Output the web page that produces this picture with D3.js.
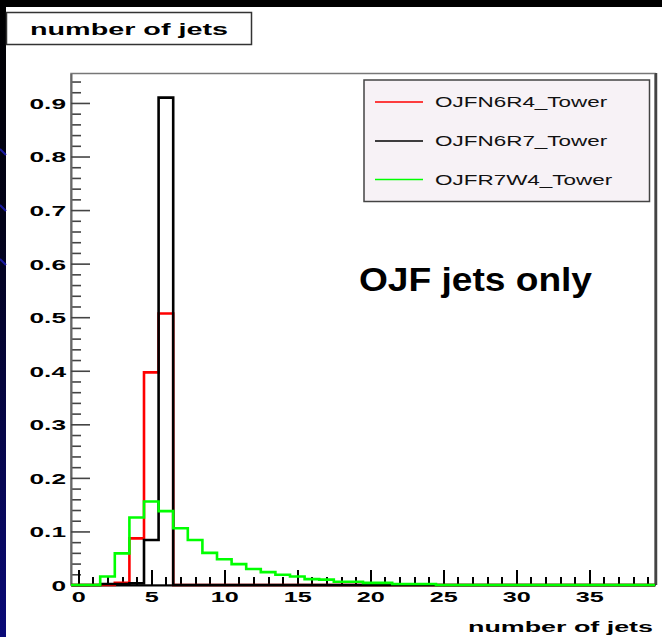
<!DOCTYPE html>
<html><head><meta charset="utf-8">
<script src="https://cdn.jsdelivr.net/npm/d3@7"></script>
<style>body{margin:0;background:#fff;}svg{display:block;font-family:"Liberation Sans",Arial,Helvetica,sans-serif;}</style>
</head><body>
<svg id="c" width="662" height="637"></svg>
<script>
// ---- data ----
const binCenters = [0,1,2,3,4,5,6,7,8,9,10,11,12,13,14,15,16,17,18,19,20,21,22,23,24,25,26,27,28,29,30,31,32,33,34,35,36,37,38,39];
const redN6R4   = [0,0,0,0.004,0.087,0.397,0.507,0,0,0,0,0,0,0,0,0,0,0,0,0,0,0,0,0,0,0,0,0,0,0,0,0,0,0,0,0,0,0,0,0];
const blackN6R7 = [0,0,0.002,0.002,0.003,0.084,0.910,0,0,0,0,0,0,0,0,0,0,0,0,0,0,0,0,0,0,0,0,0,0,0,0,0,0,0,0,0,0,0,0,0];
const greenR7W4 = [0,0,0.016,0.059,0.126,0.156,0.138,0.106,0.084,0.060,0.048,0.039,0.030,0.024,0.019,0.016,0.011,0.010,0.006,0.006,0.004,0.004,0.002,0.002,0.002,0,0,0,0,0,0,0,0,0,0,0,0,0,0,0];
const seriesNames = ["OJFN6R4_Tower","OJFN6R7_Tower","OJFR7W4_Tower"];
const seriesColors = ["#ff0000","#000000","#00ff00"];
const xTickVals = [0,5,10,15,20,25,30,35];
const yTickVals = [0,0.1,0.2,0.3,0.4,0.5,0.6,0.7,0.8,0.9];
const yTickLabels = ["0","0.1","0.2","0.3","0.4","0.5","0.6","0.7","0.8","0.9"];
const titleText = "number of jets";
const xTitle = "number of jets";
const noteText = "OJF jets only";

const svg = d3.select("#c");
// slide background pieces
const defs = svg.append("defs");
const lg = defs.append("linearGradient").attr("id","strip").attr("x1",0).attr("y1",0).attr("x2",0).attr("y2",1);
lg.append("stop").attr("offset","0%").attr("stop-color","#000000");
lg.append("stop").attr("offset","35%").attr("stop-color","#020218");
lg.append("stop").attr("offset","100%").attr("stop-color","#0a0a78");
svg.append("rect").attr("x",0).attr("y",0).attr("width",662).attr("height",637).attr("fill","#fff");
svg.append("rect").attr("x",0).attr("y",0).attr("width",662).attr("height",7).attr("fill","#000");
svg.append("rect").attr("x",0).attr("y",0).attr("width",6).attr("height",637).attr("fill","url(#strip)");
[152,208,262].forEach(yy=>{
  svg.append("line").attr("x1",0).attr("y1",yy-3).attr("x2",6).attr("y2",yy+3).attr("stroke","#1a1aa0").attr("stroke-width",2);
});

const x = d3.scaleLinear().domain([-0.5,39.5]).range([71,655]);
const y = d3.scaleLinear().domain([0,0.955]).range([585,73.5]);

// frame
svg.append("rect").attr("x",71).attr("y",73.5).attr("width",584).attr("height",511.5)
  .attr("fill","none").attr("stroke","#777").attr("stroke-width",1.5);
svg.append("line").attr("x1",656).attr("x2",656).attr("y1",73).attr("y2",585).attr("stroke","#444").attr("stroke-width",2.5);

// histograms
function stepPath(vals){
  const p = d3.path();
  p.moveTo(x(binCenters[0]-0.5), y(0));
  vals.forEach((v,i)=>{
    p.lineTo(x(binCenters[i]-0.5), y(v));
    p.lineTo(x(binCenters[i]+0.5), y(v));
  });
  p.lineTo(x(binCenters[binCenters.length-1]+0.5), y(0));
  return p.toString();
}

// y axis
const yMinor = d3.range(0,48).map(k=>+(k*0.02).toFixed(2)).filter(v=>v<=0.955 && !yTickVals.some(t=>Math.abs(t-v)<1e-6));
const gyMinor = svg.append("g").attr("transform","translate(71,0)")
  .call(d3.axisLeft(y).tickValues(yMinor).tickSize(-10).tickFormat(""));
gyMinor.select(".domain").remove();
gyMinor.selectAll("line").attr("stroke","#444").attr("stroke-width",1.6);
const gy = svg.append("g").attr("transform","translate(71,0)")
  .call(d3.axisLeft(y).tickValues(yTickVals).tickSize(-19).tickSizeOuter(0).tickFormat((d,i)=>yTickLabels[i]));
gy.select(".domain").attr("stroke","#666").attr("stroke-width",2);
gy.selectAll("line").attr("stroke","#444").attr("stroke-width",1.6);
gy.selectAll("text").attr("x",0).attr("dy","0.36em").attr("transform","translate(-5,0) scale(1.75,1)")
  .attr("font-size",15).attr("font-weight","bold").attr("fill","#000").attr("font-family","'Liberation Sans',Arial,sans-serif");

// x axis
const xMinor = binCenters.filter(v=>!xTickVals.includes(v));
const gxMinor = svg.append("g").attr("transform","translate(0,585)")
  .call(d3.axisBottom(x).tickValues(xMinor).tickSize(-8).tickFormat(""));
gxMinor.select(".domain").remove();
gxMinor.selectAll("line").attr("stroke","#000").attr("stroke-width",2).attr("shape-rendering","crispEdges");
const gx = svg.append("g").attr("transform","translate(0,585)")
  .call(d3.axisBottom(x).tickValues(xTickVals).tickSize(-15).tickSizeOuter(0).tickPadding(7));
gx.select(".domain").attr("stroke","#000").attr("stroke-width",2);
gx.selectAll(".tick line").attr("stroke","#000").attr("stroke-width",2).attr("shape-rendering","crispEdges");
gx.selectAll("text").attr("transform","scale(1.8,1)")
  .attr("font-size",14).attr("font-weight","bold").attr("fill","#000").attr("font-family","'Liberation Sans',Arial,sans-serif");

[redN6R4, blackN6R7, greenR7W4].forEach((vals,i)=>{
  svg.append("path").attr("d",stepPath(vals)).attr("fill","none")
    .attr("stroke",seriesColors[i]).attr("stroke-width",2.6).attr("stroke-linejoin","miter");
});

// axis title
svg.append("text").attr("x",653).attr("y",632).attr("text-anchor","end")
  .attr("font-size",14.5).attr("font-weight","bold").attr("textLength",185).attr("lengthAdjust","spacingAndGlyphs")
  .text(xTitle);

// title box
svg.append("rect").attr("x",6.5).attr("y",12.5).attr("width",245).attr("height",32)
  .attr("fill","#fff").attr("stroke","#333").attr("stroke-width",1.5);
svg.append("text").attr("x",30).attr("y",34.5).attr("font-size",16).attr("font-weight","bold")
  .attr("textLength",198).attr("lengthAdjust","spacingAndGlyphs").text(titleText);

// legend
svg.append("rect").attr("x",364).attr("y",80).attr("width",285.5).attr("height",121.5)
  .attr("fill","#f7f2f6").attr("stroke","#444").attr("stroke-width",1.5);
const legY = [102,141,179.5];
seriesNames.forEach((n,i)=>{
  svg.append("line").attr("x1",375).attr("x2",423).attr("y1",legY[i]).attr("y2",legY[i])
    .attr("stroke",seriesColors[i]).attr("stroke-width",1.6);
  svg.append("text").attr("transform",`translate(435,${legY[i]+5}) scale(1.55,1)`)
    .attr("font-size",14.5).attr("fill","#111").text(n);
});

// note
svg.append("text").attr("x",359).attr("y",290.5).attr("font-size",34).attr("font-weight","bold")
  .attr("textLength",233).attr("lengthAdjust","spacingAndGlyphs").text(noteText);
</script>
</body></html>
